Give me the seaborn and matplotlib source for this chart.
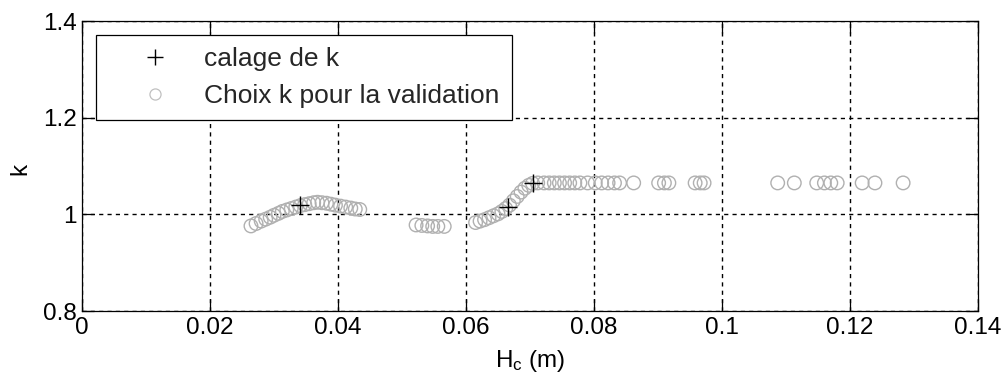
import numpy as np
import pandas as pd
import matplotlib
matplotlib.use("Agg")
import matplotlib.pyplot as plt
from matplotlib.lines import Line2D
import seaborn as sns

# ---- data ----
calage_x = [0.0341, 0.0665, 0.0704]
calage_k = [1.020, 1.015, 1.064]

valid_x = [
    # cluster 1
    0.0264, 0.0272, 0.0280, 0.0287, 0.0294, 0.0300, 0.0307, 0.0313, 0.0320,
    0.0327, 0.0334, 0.0341, 0.0348, 0.0355, 0.0362, 0.0368, 0.0375, 0.0382,
    0.0389, 0.0396, 0.0404, 0.0412, 0.0420, 0.0427, 0.0434,
    # cluster 2
    0.0522, 0.0531, 0.0540, 0.0548, 0.0556, 0.0566,
    # rising branch
    0.0615, 0.0622, 0.0629, 0.0636, 0.0643, 0.0650, 0.0656, 0.0662, 0.0668,
    0.0674, 0.0680, 0.0686, 0.0692, 0.0698, 0.0704,
    # plateau
    0.0712, 0.0722, 0.0730, 0.0738, 0.0746, 0.0754, 0.0762, 0.0770, 0.0778,
    0.0790, 0.0802, 0.0812, 0.0822, 0.0832, 0.0840, 0.0862,
    0.0901, 0.0910, 0.0917, 0.0958, 0.0966, 0.0972,
    0.1087, 0.1113, 0.1148, 0.1160, 0.1170, 0.1180, 0.1219, 0.1239, 0.1283,
]
valid_k = [
    0.976, 0.981, 0.986, 0.990, 0.994, 0.998, 1.002, 1.006, 1.009,
    1.012, 1.015, 1.018, 1.020, 1.022, 1.024, 1.025, 1.024, 1.023,
    1.021, 1.019, 1.017, 1.015, 1.013, 1.011, 1.010,
    0.978, 0.977, 0.976, 0.975, 0.975, 0.975,
    0.983, 0.986, 0.989, 0.993, 0.997, 1.001, 1.006, 1.012, 1.019,
    1.028, 1.037, 1.046, 1.054, 1.060, 1.064,
    1.065, 1.065, 1.065, 1.065, 1.065, 1.065, 1.065, 1.065, 1.065,
    1.065, 1.065, 1.065, 1.065, 1.065, 1.065, 1.065,
    1.065, 1.065, 1.065, 1.065, 1.065, 1.065,
    1.065, 1.065, 1.065, 1.065, 1.065, 1.065, 1.065, 1.065, 1.065,
]

xticks = [0, 0.02, 0.04, 0.06, 0.08, 0.1, 0.12, 0.14]
xtick_labels = ["0", "0.02", "0.04", "0.06", "0.08", "0.1", "0.12", "0.14"]
yticks = [0.8, 1.0, 1.2, 1.4]
ytick_labels = ["0.8", "1", "1.2", "1.4"]

sns.set_theme(style="white")
plt.rcParams["font.family"] = ["Liberation Sans", "DejaVu Sans"]
plt.rcParams["mathtext.fontset"] = "custom"
plt.rcParams["mathtext.rm"] = "Liberation Sans"
plt.rcParams["mathtext.it"] = "Liberation Sans"
plt.rcParams["mathtext.bf"] = "Liberation Sans:bold"

FS = 17.5

fig = plt.figure(figsize=(10.05, 3.78), dpi=100)
ax = fig.add_axes([82 / 1005, 1 - 311 / 378, (978 - 82) / 1005, (311 - 21) / 378])

df_v = pd.DataFrame({"x": valid_x, "k": valid_k})
df_c = pd.DataFrame({"x": calage_x, "k": calage_k})

circle_col = "#b0b0b0"
sns.scatterplot(data=df_v, x="x", y="k", ax=ax, marker="o", s=95,
                facecolor="none", edgecolor=circle_col, linewidth=1.0,
                zorder=3, legend=False)
ax.collections[-1].set_facecolor("none")
ax.collections[-1].set_edgecolor(circle_col)
sns.scatterplot(data=df_c, x="x", y="k", ax=ax, marker="+", s=150,
                color="black", linewidth=1.0, zorder=4, legend=False)

ax.set_xlim(0, 0.14)
ax.set_ylim(0.8, 1.4)
ax.set_xticks(xticks)
ax.set_xticklabels(xtick_labels)
ax.set_yticks(yticks)
ax.set_yticklabels(ytick_labels)

ax.grid(True, color="black", linestyle=(0, (3, 3)), linewidth=1.0)
ax.set_axisbelow(True)
for sp in ax.spines.values():
    sp.set_color("black")
    sp.set_linewidth(0.9)
    sp.set_visible(True)

ax.tick_params(direction="in", length=8.5, width=0.9, color="black",
               top=True, right=True, bottom=True, left=True,
               labelsize=FS, labelcolor="black", pad=4)

ax.set_xlabel(r"H$_\mathregular{c}$ (m)", fontsize=FS, color="black", labelpad=7)
ax.set_ylabel("k", fontsize=FS, color="black", va="center")
ax.yaxis.set_label_coords(-0.069, 0.49)

handles = [
    Line2D([], [], linestyle="none", marker="+", markersize=12,
           markeredgewidth=1.0, color="black"),
    Line2D([], [], linestyle="none", marker="o", markersize=8,
           markerfacecolor="none", markeredgecolor="#c0c0c0",
           markeredgewidth=0.9),
]
leg = ax.legend(handles, ["calage de k", "Choix k pour la validation"],
                loc="upper left", bbox_to_anchor=(0.0157, 0.952),
                borderaxespad=0, fontsize=19, frameon=True, fancybox=False,
                framealpha=1, edgecolor="black", handlelength=3.55,
                handletextpad=0.1, borderpad=0.45, labelspacing=0.5)
leg.get_frame().set_linewidth(0.9)
leg.set_zorder(10)

fig.savefig("out.png", dpi=100, facecolor="white")
